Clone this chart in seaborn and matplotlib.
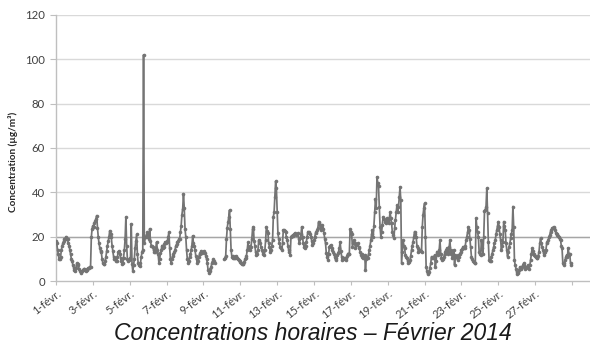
import numpy as np
import pandas as pd
import matplotlib
matplotlib.use("Agg")
import matplotlib.pyplot as plt
import matplotlib.transforms as mtransforms
import seaborn as sns

# Hourly concentrations (µg/m³), one row of 24 values per day, 1-28 February 2014
day01 = [18, 17, 14, 12, 10, 10, 11, 14, 16, 17, 18, 19, 19, 20, 19, 19, 17, 16, 14, 12, 10, 9, 7, 6]
day02 = [5, 4.5, 6, 8, 7.5, 7, 5.5, 4.5, 4, 3.8, 4.5, 5, 5.5, 5.5, 5, 4.5, 5, 5.5, 6, 6, 6.5, 6.5, 19.7, 23.6]
day03 = [25, 24.5, 26, 27, 28, 29.5, 24, 20, 17, 15, 13.5, 13, 10, 8, 7.5, 7.6, 9, 11, 13.5, 16, 18, 20, 22.7, 21]
day04 = [19.7, 16, 13.6, 11, 10, 9.8, 9, 9, 11, 13, 13.6, 12, 10.6, 9, 7.6, 8, 10.6, 14, 19, 28.8, 16, 9.8, 9, 9.5]
day05 = [10, 10.6, 25.8, 7.6, 4.5, 7, 10, 15, 18, 21, 12, 8, 7, 6.8, 8, 11, 13, 14, 102, 17, 19.7, 20, 21, 22]
day06 = [20, 19, 23.6, 18, 16, 16, 15.5, 14, 13, 13, 15, 17.6, 14, 12, 8.3, 10, 12.5, 14, 16, 15, 15.2, 16.5, 17.6, 17]
day07 = [17.6, 18, 20, 22, 15, 10, 8.3, 10, 11.4, 12, 12.9, 14, 15.9, 16.5, 17.4, 18, 18.9, 19, 22, 25, 30, 32.6, 39.4, 33]
day08 = [23.6, 20, 14, 10, 8.3, 9, 11, 12, 14, 16, 20.4, 17, 15.9, 14, 11.4, 10, 8.3, 9, 11, 12, 12.5, 13.6, 12.5, 12.9]
day09 = [13, 13.6, 12.5, 11.4, 10, 8.3, 5, 3.8, 4.5, 5.3, 6.5, 8.3, 9, 9.8, 9, 8.3,
         None, None, None, None, None, None, None, None]
day10 = [None, None, None, 9.8, 10.5, 11.4, 19, 24, 26.5, 29, 32, 23.6, 14, 11, 11.4, 10.6, 10.6, 10.6, 11.4, 11, 10.6, 9.8, 9.5, 9.1]
day11 = [8.5, 8, 7.6, 7.6, 7.6, 8.5, 9.8, 10.5, 11.4, 14, 17.4, 14.4, 14, 15.9, 15.5, 19, 23.5, 24.5, 18, 15.9, 13, 11.7, 12, 14]
day12 = [18.5, 18, 17, 15.5, 14, 13, 12, 11.7, 14, 18.5, 24.5, 22.5, 21.5, 17, 15.5, 13.3, 14, 16, 18.5, 29, 31, 38, 45, 42]
day13 = [31, 21.5, 19, 17, 15.5, 15, 14, 17, 23, 23, 22.5, 22, 20, 18.5, 16, 14, 13, 11.7, 20, 20.5, 20.5, 20.8, 21, 21.5]
day14 = [21, 20.8, 21, 21.5, 19, 17, 19.2, 21, 24.5, 20, 17, 15.5, 14.8, 16, 17.7, 20, 22.3, 22, 21.5, 21, 20, 18, 16.2, 17]
day15 = [18.5, 20, 21.5, 22, 23, 24, 26.8, 26, 25.3, 23, 24, 25.3, 23.5, 21.5, 19, 17, 12.5, 11, 9.4, 12, 15.5, 16, 16.2, 15]
day16 = [14, 13, 12.4, 11, 9.4, 10.5, 11.7, 12.5, 13.3, 15, 17.7, 13.5, 11, 9.4, 10, 10.2, 10, 9.4, 10.5, 11.5, 12.4, 12.4, 12.4, 23.5]
day17 = [22.3, 21, 15.5, 17, 18.5, 17, 14.7, 16.2, 16.5, 17, 15.5, 14.7, 13, 11.7, 12.4, 11, 10.2, 11, 11.7, 4.8, 10, 11, 10.2, 12]
day18 = [14, 16, 18.5, 21, 23, 20, 25, 31, 37, 33, 47, 44, 42.7, 33.6, 24.5, 20, 22, 25.3, 29, 28, 27.6, 26.5, 26, 28.3]
day19 = [27, 26, 28, 31, 28.5, 26, 22, 20.8, 19.2, 24, 27.6, 31, 34.2, 31, 33.3, 38, 42.5, 36.4, 8, 13, 18.5, 16, 14.7, 11.7]
day20 = [11, 10.2, 9, 8, 8.5, 9.4, 11.5, 14, 16, 17.7, 20, 22.3, 21, 20, 16, 14.7, 13.3, 13.5, 14, 13.5, 13.3, 24.5, 30, 32.8]
day21 = [35, 20, 6.4, 4.5, 3.3, 3.5, 4, 6, 8, 11, 10.5, 10.2, 11, 11.7, 6.4, 9, 13.3, 12.5, 11.7, 14, 18.5, 12.4, 10.5, 9.4]
day22 = [10, 11, 12, 13.3, 14, 14.7, 13, 12.4, 15.5, 18.5, 12.4, 14, 10.2, 11, 14, 7.1, 11.7, 11, 11, 9.4, 11.7, 11, 12.4, 13]
day23 = [14, 14.5, 15.5, 15, 14.7, 16, 18.5, 20, 22, 24.5, 23, 19, 15.5, 11, 10, 8.8, 8.5, 8, 8, 28.3, 24.5, 22, 20, 13.3]
day24 = [12, 11.7, 18.5, 15, 12.4, 20, 31.4, 32, 33.6, 41.8, 30.6, 17.7, 9.4, 9, 8.8, 11, 12.4, 14, 15.5, 17, 18.5, 21, 23, 25]
day25 = [26.8, 24.5, 21, 18.5, 14, 16, 17.7, 26.8, 25, 23, 17, 14, 11, 13, 15.5, 17, 19.2, 21, 23, 33.6, 24.5, 9.4, 7, 5.6]
day26 = [3.3, 3.5, 4, 5, 6.4, 6, 5.6, 6.5, 7.1, 8, 7, 5.6, 6, 6.4, 6.8, 7.1, 5.6, 7, 9.4, 12, 14.7, 13.5, 12.4, 11.7]
day27 = [11.5, 11, 10.5, 10.2, 11.5, 13.3, 17, 19.2, 17, 15.5, 14, 12.5, 11.7, 13, 14, 17, 17.5, 18.5, 20, 20.8, 22.3, 23, 23.8, 24]
day28 = [24.5, 24, 23, 21.5, 21, 20.8, 20.5, 20, 19, 18.5, 16, 14.7, 8, 7.1, 8, 9.4, 11, 11.7, 11, 15, 11.7, 12.4, 8, 7]

days = [day01, day02, day03, day04, day05, day06, day07, day08, day09, day10,
        day11, day12, day13, day14, day15, day16, day17, day18, day19, day20,
        day21, day22, day23, day24, day25, day26, day27, day28]

tick_days = list(range(0, 30, 2))
tick_labels = [f"{d + 1}-févr." for d in tick_days[:-1]] + [""]

# Long table: one row per hour, time expressed in days since 1 February
values = [np.nan if v is None else v for day in days for v in day]
hours = np.arange(len(values))
df = pd.DataFrame({"t": hours / 24.0, "conc": np.array(values, dtype=float)})
# Split into continuous runs so a missing stretch leaves a gap in the line
df["run"] = df["conc"].isna().cumsum()
df = df.dropna()

sns.set_theme(style="white")
plt.rcParams["font.family"] = ["Lato", "DejaVu Sans"]

fig = plt.figure(figsize=(5.90, 3.49), dpi=100)
ax = fig.add_axes([56 / 590, 1 - 281 / 349, 534 / 590, 266 / 349])

sns.lineplot(data=df, x="t", y="conc", units="run", estimator=None, ax=ax,
             color="#747474", linewidth=1.25, marker="o", markersize=2.6,
             markeredgewidth=0, legend=False, zorder=3)

ax.set_xlim(0, 534 / 18.43)
ax.set_ylim(0, 120)
ax.set_yticks(range(0, 121, 20))
ax.set_xticks(tick_days)
ax.set_xticklabels(tick_labels, rotation=38, ha="right", rotation_mode="anchor")
shift = mtransforms.ScaledTranslation(6 / 100, 1 / 100, fig.dpi_scale_trans)
for lab in ax.get_xticklabels():
    lab.set_transform(lab.get_transform() + shift)

for y in range(20, 121, 20):
    ax.axhline(y, color="#d9d9d9", linewidth=1.0, zorder=1)
ax.axhline(20, color="#a6a6a6", linewidth=1.0, zorder=2)

for side in ("top", "right"):
    ax.spines[side].set_visible(False)
for side in ("left", "bottom"):
    ax.spines[side].set_color("#bfbfbf")
    ax.spines[side].set_linewidth(1.0)

ax.tick_params(axis="x", which="both", bottom=True, length=3, width=0.8, color="#bfbfbf",
               labelsize=8.0, labelcolor="#404040", pad=2)
ax.tick_params(axis="y", left=True, length=4, width=0.8, color="#bfbfbf",
               labelsize=8.2, labelcolor="#404040", pad=4)
ax.set_xlabel("")
ax.set_ylabel("")

fig.text(13 / 590, 1 - 162 / 349, "Concentration (µg/m³)", rotation=90,
         ha="center", va="center", fontsize=7.2, fontweight="bold", color="#262626")
fig.text(313 / 590, 1 - 334 / 349, "Concentrations horaires – Février 2014",
         ha="center", va="center", fontsize=16.5, style="italic",
         family=["Liberation Sans", "DejaVu Sans"], color="#1a1a1a")

fig.savefig("out.png", dpi=100)
